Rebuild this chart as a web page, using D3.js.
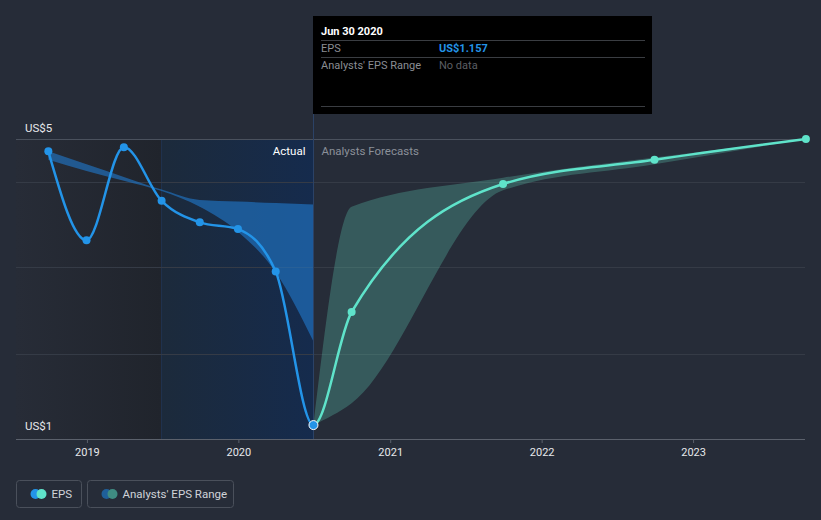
<!DOCTYPE html>
<html><head><meta charset="utf-8">
<script src="https://cdn.jsdelivr.net/npm/d3@7"></script>
<style>
html,body{margin:0;padding:0;background:#262c38;}
svg{display:block;font-family:Roboto,"Noto Sans",sans-serif;}
</style></head><body>
<svg id="c" width="821" height="520"></svg>
<script>
// ---- data ----
const actualDates = ["2018-09-30","2018-12-31","2019-03-31","2019-06-30","2019-09-30","2019-12-31","2020-03-31","2020-06-30"];
const actualEps = [4.835, 3.64, 4.89, 4.17, 3.88, 3.79, 3.22, 1.157];
const pastRangeDates = ["2018-09-30","2018-12-31","2019-03-31","2019-06-30","2019-09-30","2019-12-31","2020-03-31","2020-06-30"];
const pastRangeHigh = [4.835, 4.66, 4.49, 4.32, 4.18, 4.16, 4.14, 4.12];
const pastRangeLow  = [4.72, 4.57, 4.44, 4.30, 4.09, 3.755, 3.21, 2.28];
const fcDates = ["2020-06-30","2020-09-30","2021-09-30","2022-09-30","2023-09-30"];
const fcEps   = [1.157, 2.676, 4.396, 4.72, 5.0];
const fcHigh  = [1.157, 4.09, 4.48, 4.75, 5.0];
const fcLow   = [1.157, 1.45, 4.31, 4.66, 5.0];
const yearTicks = ["2019-01-01","2020-01-01","2021-01-01","2022-01-01","2023-01-01"];
const yearLabels = ["2019","2020","2021","2022","2023"];
const gridValues = [2.11, 3.28, 4.42];
const yLabels = [{v:5, t:"US$5"}, {v:1, t:"US$1"}];
const nowDate = "2020-06-30";
const lastYearStart = "2019-06-30";
const tooltip = {title:"Jun 30 2020", rows:[["EPS","US$1.157"],["Analysts' EPS Range","No data"]]};
const legendItems = ["EPS","Analysts' EPS Range"];

const P = d3.timeParse("%Y-%m-%d");
const svg = d3.select("#c");
const pL = 16, pR = 805, pT = 139, pB = 439;

const x = d3.scaleTime().domain([P("2018-01-01"), P("2024-01-01")])
  .range([87 - 151.5, 87 + 5*151.5]);
const y = d3.scaleLinear().domain([0.97, 5.0]).range([pB, pT]);

const defs = svg.append("defs");
const g1 = defs.append("linearGradient").attr("id","pastBg");
g1.append("stop").attr("offset","0%").attr("stop-color","#272c37");
g1.append("stop").attr("offset","100%").attr("stop-color","#20242c");
const g2 = defs.append("linearGradient").attr("id","yearBg");
g2.append("stop").attr("offset","0%").attr("stop-color","#1c2a3b");
g2.append("stop").attr("offset","100%").attr("stop-color","#152b4d");

const xNow = x(P(nowDate)), xLY = x(P(lastYearStart));
defs.append("clipPath").attr("id","clipPast").append("rect").attr("x",0).attr("y",0).attr("width",xNow).attr("height",520);
defs.append("clipPath").attr("id","clipFut").append("rect").attr("x",xNow).attr("y",0).attr("width",821-xNow).attr("height",520);

svg.append("rect").attr("x",pL).attr("y",pT).attr("width",xLY-pL).attr("height",pB-pT).attr("fill","url(#pastBg)");
svg.append("rect").attr("x",xLY).attr("y",pT).attr("width",xNow-xLY).attr("height",pB-pT).attr("fill","url(#yearBg)");
svg.append("line").attr("x1",xLY).attr("x2",xLY).attr("y1",pT).attr("y2",pB).attr("stroke","#1f3350").attr("stroke-width",1);

// gridlines
svg.selectAll("line.grid").data(gridValues).join("line").attr("class","grid")
  .attr("x1",pL).attr("x2",pR).attr("y1",d=>Math.round(y(d))+0.5).attr("y2",d=>Math.round(y(d))+0.5)
  .attr("stroke","#353b46").attr("stroke-width",1);
svg.append("line").attr("x1",pL).attr("x2",pR).attr("y1",Math.round(y(5))+0.5).attr("y2",Math.round(y(5))+0.5)
  .attr("stroke","#4a515d");

// bands
const pastBand = pastRangeDates.map((d,i)=>({d:P(d),h:pastRangeHigh[i],l:pastRangeLow[i]}));
const fcBand = fcDates.map((d,i)=>({d:P(d),h:fcHigh[i],l:fcLow[i]}));
const area = d3.area().x(d=>x(d.d)).y0(d=>y(d.l)).y1(d=>y(d.h)).curve(d3.curveMonotoneX);
svg.append("path").datum(pastBand).attr("d",area).attr("fill","#2178c9").attr("fill-opacity",0.62);
svg.append("path").datum(fcBand).attr("d",area).attr("fill","#5cc7b0").attr("fill-opacity",0.3);

// now vertical line
svg.append("line").attr("x1",Math.round(xNow)+0.5).attr("x2",Math.round(xNow)+0.5).attr("y1",16).attr("y2",pB)
  .attr("stroke","#2b4266").attr("stroke-width",1);

// lines (one continuous series, coloured by period)
const actual = actualDates.map((d,i)=>({d:P(d),v:actualEps[i]}));
const fc = fcDates.map((d,i)=>({d:P(d),v:fcEps[i]}));
const all = actual.concat(fc.slice(1));
const line = d3.line().x(d=>x(d.d)).y(d=>y(d.v)).curve(d3.curveMonotoneX);
svg.append("path").datum(all).attr("d",line).attr("fill","none").attr("stroke","#5fe3ca").attr("stroke-width",2.5).attr("clip-path","url(#clipFut)");
svg.append("path").datum(all).attr("d",line).attr("fill","none").attr("stroke","#2394e8").attr("stroke-width",2.5).attr("clip-path","url(#clipPast)");
svg.selectAll("circle.fc").data(fc.slice(1)).join("circle").attr("class","fc")
  .attr("cx",d=>x(d.d)).attr("cy",d=>y(d.v)).attr("r",4).attr("fill","#5fe3ca");
svg.selectAll("circle.ac").data(actual.slice(0,-1)).join("circle").attr("class","ac")
  .attr("cx",d=>x(d.d)).attr("cy",d=>y(d.v)).attr("r",4).attr("fill","#2394e8");
const last = actual[actual.length-1];
svg.append("circle").attr("cx",x(last.d)).attr("cy",y(last.v)).attr("r",4.5).attr("fill","#2394e8").attr("stroke","#ffffff").attr("stroke-width",1);

// axis
svg.append("line").attr("x1",pL).attr("x2",pR).attr("y1",pB+0.5).attr("y2",pB+0.5).attr("stroke","#5b616c");
const xAxis = d3.axisBottom(x).tickValues(yearTicks.map(P)).tickFormat((d,i)=>yearLabels[i]).tickSize(4).tickPadding(5);
const ax = svg.append("g").attr("transform",`translate(0,${pB})`).call(xAxis);
ax.select(".domain").remove();
ax.selectAll(".tick line").attr("stroke","#5b616c");
ax.selectAll(".tick text").attr("fill","#e6e8eb").attr("font-size",11).attr("font-family","Roboto,sans-serif");

// y labels
svg.selectAll("text.yl").data(yLabels).join("text").attr("class","yl")
  .attr("x",25).attr("y",d=>y(d.v)-7).attr("fill","#e6e8eb").attr("font-size",11.5).text(d=>d.t);

// region labels
svg.append("text").attr("x",xNow-8).attr("y",155).attr("text-anchor","end").attr("fill","#ffffff").attr("font-size",11.5).text("Actual");
svg.append("text").attr("x",xNow+8).attr("y",155).attr("fill","#8b9099").attr("font-size",11.5).text("Analysts Forecasts");

// tooltip
const tt = svg.append("g");
tt.append("rect").attr("x",313).attr("y",16).attr("width",339).attr("height",98).attr("fill","#000000");
tt.append("text").attr("x",321).attr("y",35).attr("fill","#ffffff").attr("font-size",11).attr("font-weight","bold").text(tooltip.title);
[40.5,57.5,106.5].forEach(yy=>tt.append("line").attr("x1",321).attr("x2",645).attr("y1",yy).attr("y2",yy).attr("stroke","#3a3d42"));
tt.append("text").attr("x",321).attr("y",52).attr("fill","#8a8d93").attr("font-size",11).text(tooltip.rows[0][0]);
tt.append("text").attr("x",439).attr("y",52).attr("fill","#2394e8").attr("font-size",11).attr("font-weight","bold").text(tooltip.rows[0][1]);
tt.append("text").attr("x",321).attr("y",69).attr("fill","#8a8d93").attr("font-size",11).text(tooltip.rows[1][0]);
tt.append("text").attr("x",439).attr("y",69).attr("fill","#5c5f64").attr("font-size",11).text(tooltip.rows[1][1]);

// legend
const lg = svg.append("g");
const boxes = [{x:16.5,w:65,c1:"#2394e8",c2:"#5fe3ca"},{x:87.5,w:146,c1:"#1f5f99",c2:"#3f8c82"}];
boxes.forEach((b,i)=>{
  lg.append("rect").attr("x",b.x).attr("y",480.5).attr("width",b.w).attr("height",27).attr("rx",3)
    .attr("fill","none").attr("stroke","#4a505b");
  lg.append("circle").attr("cx",b.x+19).attr("cy",494).attr("r",5).attr("fill",b.c1);
  lg.append("circle").attr("cx",b.x+25).attr("cy",494).attr("r",5).attr("fill",b.c2);
  lg.append("text").attr("x",b.x+35).attr("y",498).attr("fill","#d0d3d8").attr("font-size",11.5).text(legendItems[i]);
});
</script>
</body></html>
